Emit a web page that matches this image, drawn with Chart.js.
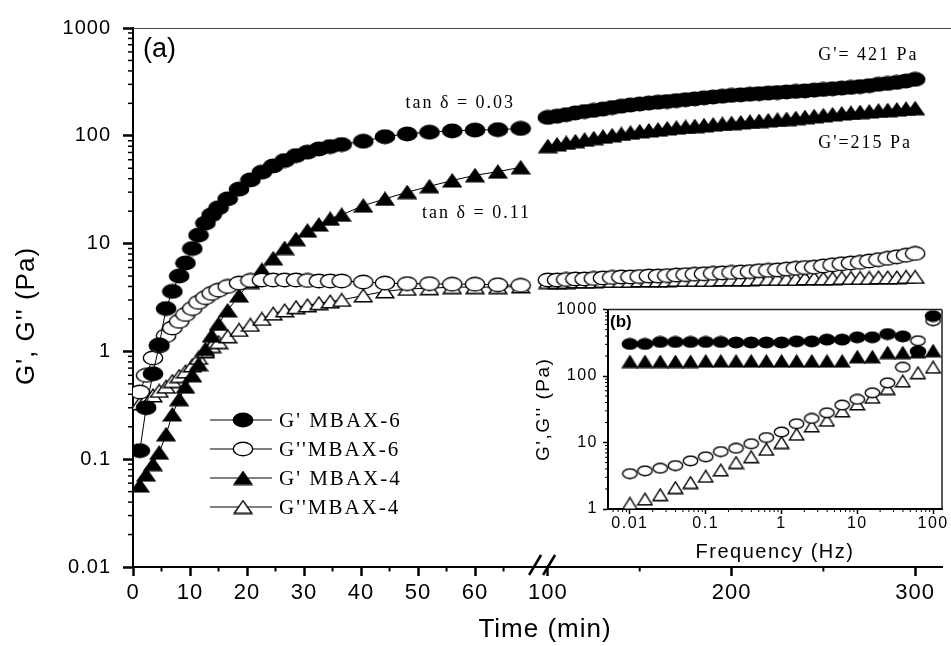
<!DOCTYPE html>
<html>
<head>
<meta charset="utf-8">
<script src="https://cdn.jsdelivr.net/npm/chart.js@4.4.1/dist/chart.umd.min.js"></script>
<style>
    html, body { margin: 0; padding: 0; background: #fff; }
    #wrap { position: relative; width: 951px; height: 646px; }
    #mainChart { position: absolute; left: 0; top: 0; }
    #insetChart { position: absolute; left: 520px; top: 295px; }
</style>
</head>
<body>
<div id="wrap">
    <canvas id="mainChart" width="951" height="646"></canvas>
    <canvas id="insetChart" width="431" height="272"></canvas>
</div>
<script>
// Thời gian đo, đoạn 1 (0–70 min)
const time1 = [1.2, 2.3, 3.5, 4.6, 5.8, 6.9, 8.1, 9.2, 10.4, 11.5, 12.7, 13.8, 15.0, 16.6, 18.6, 20.6,
    22.6, 24.6, 26.6, 28.6, 30.6, 32.6, 34.6, 36.6, 40.4, 44.2, 48.1, 52, 56, 60, 64, 68];
const gp6_1 = [0.12, 0.3, 0.62, 1.15, 2.5, 3.6, 5.0, 6.6, 9.0, 12, 15.5, 18.5, 21.5, 26, 32, 39,
    46, 52.5, 59, 65.5, 70.5, 75.5, 79.5, 83, 89, 98, 104, 108, 111, 113, 114, 117];
const gpp6_1 = [0.42, 0.6, 0.87, 1.12, 1.4, 1.65, 1.9, 2.2, 2.5, 2.85, 3.15, 3.45, 3.7, 4.0, 4.3, 4.55,
    4.6, 4.6, 4.6, 4.6, 4.55, 4.5, 4.5, 4.5, 4.4, 4.3, 4.25, 4.25, 4.2, 4.2, 4.15, 4.1];
const gp4_1 = [0.057, 0.072, 0.09, 0.115, 0.17, 0.26, 0.36, 0.47, 0.6, 0.76, 1.05, 1.4, 1.8, 2.4, 3.3, 4.4,
    5.7, 7.3, 9.1, 11, 13.2, 15, 17, 18.5, 22.5, 26, 30, 34, 38.5, 43, 46.5, 51];
const gpp4_1 = [0.33, 0.36, 0.39, 0.43, 0.47, 0.53, 0.59, 0.65, 0.74, 0.87, 1.0, 1.12, 1.22, 1.38, 1.58, 1.76,
    2.0, 2.24, 2.4, 2.57, 2.67, 2.8, 2.9, 3.0, 3.3, 3.6, 3.8, 3.85, 3.95, 3.95, 3.95, 4.0];

// Thời gian đo, đoạn 2 (100–300 min)
const time2 = [100, 105, 110, 115, 120, 125, 130, 135, 140, 145, 150, 155, 160, 165, 170, 175, 180, 185, 190, 195,
    200, 205, 210, 215, 220, 225, 230, 235, 240, 245, 250, 255, 260, 265, 270, 275, 280, 285, 290, 295, 300];
const gp6_2 = [148, 152, 157, 163, 168, 172, 177, 183, 188, 193, 197, 201, 205, 208, 212, 216, 220, 225, 229, 233,
    237, 240, 243, 246, 249, 252, 255, 258, 261, 265, 269, 273, 277, 281, 286, 292, 300, 306, 313, 322, 334];
const gpp6_2 = [4.6, 4.6, 4.65, 4.7, 4.7, 4.75, 4.8, 4.85, 4.9, 4.9, 4.95, 5.0, 5.0, 5.05, 5.1, 5.15, 5.2, 5.25, 5.3, 5.35,
    5.4, 5.45, 5.5, 5.6, 5.65, 5.7, 5.8, 5.9, 6.0, 6.05, 6.2, 6.35, 6.5, 6.6, 6.7, 6.9, 7.1, 7.3, 7.55, 7.8, 8.1];
const gp4_2 = [80, 83, 86, 89, 92, 95, 98, 101, 104, 107, 110, 112, 114, 117, 119, 121, 123, 125, 127, 129,
    131, 133, 135, 137, 139, 141, 143, 146, 149, 152, 155, 158, 161, 163, 166, 168, 171, 173, 175, 178, 180];
const gpp4_2 = [4.4, 4.4, 4.4, 4.45, 4.45, 4.45, 4.5, 4.5, 4.5, 4.5, 4.55, 4.55, 4.55, 4.55, 4.6, 4.6, 4.6, 4.6, 4.6, 4.65,
    4.65, 4.65, 4.65, 4.7, 4.7, 4.7, 4.7, 4.7, 4.75, 4.75, 4.75, 4.75, 4.8, 4.8, 4.8, 4.8, 4.85, 4.85, 4.85, 4.9, 4.9];

// Quét tần số (hình nhỏ b)
const freq = [0.01, 0.0158, 0.0251, 0.0398, 0.0631, 0.1, 0.158, 0.251, 0.398, 0.631, 1,
    1.58, 2.51, 3.98, 6.31, 10, 15.8, 25.1, 39.8, 63.1, 100];
const gp6_f = [304, 304, 326, 326, 326, 326, 326, 320, 320, 320, 320, 333, 333, 354, 354, 383, 383, 429, 396, 236, 800];
const gpp6_f = [3.4, 3.75, 4.1, 4.5, 5.3, 6.1, 7.3, 8.2, 9.6, 11.9, 14.4, 19.2, 23, 28, 36.6, 44.6, 56, 79, 136, 340, 680];
const gp4_f = [165, 165, 165, 165, 165, 168, 168, 168, 168, 168, 168, 168, 168, 168, 168, 195, 195, 225, 225, 232, 240];
const gpp4_f = [1.21, 1.41, 1.64, 2.1, 2.5, 3.1, 3.85, 5.0, 6.1, 7.9, 10, 13.3, 17.7, 21.6, 29.8, 38, 48, 65, 84, 112, 136];

// Nhãn chuỗi và vạch chia
const seriesLabels = ["G' MBAX-6", "G''MBAX-6", "G' MBAX-4", "G''MBAX-4"];
const xTicks1 = [0, 10, 20, 30, 40, 50, 60];
const xMinor1 = [5, 15, 25, 35, 45, 55, 65];
const xTicks2 = [100, 200, 300];
const xMinor2 = [150, 250];
const yTicks = [0.01, 0.1, 1, 10, 100, 1000];
const yTickLabels = ['0.01', '0.1', '1', '10', '100', '1000'];
const fTicks = [0.01, 0.1, 1, 10, 100];
const fTickLabels = ['0.01', '0.1', '1', '10', '100'];
const gTicks = [1, 10, 100, 1000];
const gTickLabels = ['1', '10', '100', '1000'];

Chart.defaults.font.family = "'Liberation Sans', Arial, sans-serif";
Chart.defaults.color = '#000';

// Vạch chia phụ của trục log: 2..9 trong mỗi thập phân
function logMinor(decades, lo, hi) {
    const out = [];
    decades.forEach(d => {
        for (let m = 2; m <= 9; m++) {
            const v = d * m;
            if (v > lo && v < hi) out.push(v);
        }
    });
    return out;
}
const yMinor = logMinor([0.01, 0.1, 1, 10, 100], 0.01, 1000);
const fMinor = logMinor([0.001, 0.01, 0.1, 1, 10, 100], 0.00514, 131);
const gMinor = logMinor([1, 10, 100], 1, 1000);

// Tạo ký hiệu điểm (ellipse / tam giác) dạng canvas
function makeMarker(shape, filled, w, h) {
    const c = document.createElement('canvas');
    c.width = w + 2;
    c.height = h + 2;
    const g = c.getContext('2d');
    g.lineWidth = 1.4;
    g.strokeStyle = '#000';
    g.fillStyle = filled ? '#000' : '#fff';
    g.beginPath();
    if (shape === 'circle') {
        g.ellipse(c.width / 2, c.height / 2, w / 2 - 0.3, h / 2 - 0.3, 0, 0, Math.PI * 2);
    } else {
        g.moveTo(c.width / 2, 1.2);
        g.lineTo(c.width - 1.2, c.height - 1.2);
        g.lineTo(1.2, c.height - 1.2);
        g.closePath();
    }
    g.fill();
    g.stroke();
    return c;
}

const bigMarkers = [
    makeMarker('circle', true, 20, 14),
    makeMarker('circle', false, 20, 14),
    makeMarker('triangle', true, 18, 13),
    makeMarker('triangle', false, 18, 13)
];
const smallMarkers = [
    makeMarker('circle', true, 16, 11),
    makeMarker('circle', false, 15, 10),
    makeMarker('triangle', true, 15, 12),
    makeMarker('triangle', false, 15, 12)
];

function toPoints(xs, ys) {
    return xs.map((x, i) => ({ x: x, y: ys[i] }));
}

function line(ctx, x1, y1, x2, y2) {
    ctx.beginPath();
    ctx.moveTo(x1, y1);
    ctx.lineTo(x2, y2);
    ctx.stroke();
}

// Dữ liệu cho biểu đồ chính: mỗi chuỗi có 2 đoạn (trục x1 và x2)
const seg1 = [gp6_1, gpp6_1, gp4_1, gpp4_1];
const seg2 = [gp6_2, gpp6_2, gp4_2, gpp4_2];
const mainDatasets = [];
seriesLabels.forEach((label, i) => {
    [[time1, seg1[i], 'x1'], [time2, seg2[i], 'x2']].forEach(([xs, ys, axis]) => {
        mainDatasets.push({
            label: label,
            data: toPoints(xs, ys),
            xAxisID: axis,
            yAxisID: 'y',
            showLine: true,
            borderColor: '#000',
            borderWidth: 1,
            pointStyle: bigMarkers[i],
            pointRadius: 8,
            fill: false
        });
    });
});

// Chú thích văn bản, gắn theo toạ độ của trục
const notes = [
    { text: 'tan δ = 0.03', axis: 'x1', x: 47.8, y: 201 },
    { text: 'tan δ = 0.11', axis: 'x1', x: 50.7, y: 19.2 },
    { text: "G'= 421 Pa", axis: 'x2', x: 247.2, y: 562 },
    { text: "G'=215 Pa", axis: 'x2', x: 247.2, y: 85.7 }
];

const mainDecor = {
    id: 'mainDecor',
    beforeDraw(chart) {
        chart.ctx.letterSpacing = '1px';
    },
    afterDraw(chart) {
        const ctx = chart.ctx;
        const a = chart.chartArea;
        const sc = chart.scales;
        ctx.save();

        // Viền trên
        ctx.strokeStyle = '#444';
        ctx.lineWidth = 1.2;
        line(ctx, a.left, a.top + 0.5, chart.width, a.top + 0.5);

        // Vạch chia phụ
        ctx.strokeStyle = '#000';
        ctx.lineWidth = 2;
        xMinor1.forEach(v => { const p = sc.x1.getPixelForValue(v); line(ctx, p, sc.x1.top, p, sc.x1.top + 4.5); });
        xMinor2.forEach(v => { const p = sc.x2.getPixelForValue(v); line(ctx, p, sc.x2.top, p, sc.x2.top + 4.5); });
        ctx.lineWidth = 1.5;
        yMinor.forEach(v => { const p = sc.y.getPixelForValue(v); line(ctx, a.left - 5, p, a.left, p); });

        // Dấu ngắt trục "//"
        const b = sc.x1.right;
        const yb = sc.x1.top;
        ctx.lineWidth = 2.5;
        line(ctx, b - 3, yb + 8, b + 9, yb - 12);
        line(ctx, b + 11, yb + 8, b + 23, yb - 12);

        // Tiêu đề trục
        ctx.fillStyle = '#000';
        ctx.letterSpacing = '1px';
        ctx.font = "26px 'Liberation Sans', Arial, sans-serif";
        ctx.textAlign = 'center';
        ctx.textBaseline = 'middle';
        ctx.fillText('Time (min)', 545, 630);
        ctx.save();
        ctx.translate(27, 316);
        ctx.rotate(-Math.PI / 2);
        ctx.fillText("G', G'' (Pa)", 0, 0);
        ctx.restore();

        // Nhãn (a)
        ctx.letterSpacing = '0px';
        ctx.font = "27px 'Liberation Sans', Arial, sans-serif";
        ctx.textAlign = 'left';
        ctx.fillText('(a)', a.left + 10, a.top + 22);

        // Chú thích tan δ và G'
        ctx.letterSpacing = '2px';
        ctx.font = "18px 'Liberation Serif', 'Times New Roman', serif";
        notes.forEach(n => {
            ctx.fillText(n.text, sc[n.axis].getPixelForValue(n.x), sc.y.getPixelForValue(n.y));
        });

        // Chú giải tự vẽ trong vùng biểu đồ
        const lx = a.left + 77;
        const ly = a.top + 392;
        ctx.font = "21px 'Liberation Serif', 'Times New Roman', serif";
        ctx.lineWidth = 1;
        seriesLabels.forEach((label, i) => {
            const y = ly + i * 29;
            const m = bigMarkers[i];
            line(ctx, lx, y, lx + 62, y);
            ctx.drawImage(m, lx + 33 - m.width / 2, y - m.height / 2);
            ctx.fillText(label, lx + 69, y + 1);
        });
        ctx.restore();
    }
};

new Chart(document.getElementById('mainChart'), {
    type: 'scatter',
    data: { datasets: mainDatasets },
    options: {
        responsive: false,
        animation: false,
        devicePixelRatio: 1,
        layout: { padding: { top: 28, right: 1, left: 0, bottom: 0 } },
        plugins: {
            legend: { display: false },
            tooltip: { enabled: false }
        },
        scales: {
            x1: {
                type: 'linear',
                position: 'bottom',
                stack: 'time',
                stackWeight: 403,
                bounds: 'data',
                min: 0,
                max: 70,
                afterBuildTicks: s => { s.ticks = xTicks1.map(v => ({ value: v })); },
                afterFit: s => { s.height = 79; },
                ticks: {
                    callback: (v, i) => String(xTicks1[i]),
                    font: { size: 22 },
                    color: '#000',
                    padding: 4,
                    maxRotation: 0,
                    autoSkip: false
                },
                grid: { drawOnChartArea: false, tickLength: 9, tickWidth: 2.5, tickColor: '#000' },
                border: { color: '#000', width: 2 }
            },
            x2: {
                type: 'linear',
                position: 'bottom',
                stack: 'time',
                stackWeight: 414,
                bounds: 'data',
                min: 91.4,
                max: 314.6,
                afterBuildTicks: s => { s.ticks = xTicks2.map(v => ({ value: v })); },
                afterFit: s => { s.height = 79; },
                ticks: {
                    callback: (v, i) => String(xTicks2[i]),
                    font: { size: 22 },
                    color: '#000',
                    padding: 4,
                    maxRotation: 0,
                    autoSkip: false
                },
                grid: { drawOnChartArea: false, tickLength: 9, tickWidth: 2.5, tickColor: '#000' },
                border: { color: '#000', width: 2 }
            },
            y: {
                type: 'logarithmic',
                position: 'left',
                bounds: 'data',
                min: 0.01,
                max: 1000,
                afterBuildTicks: s => { s.ticks = yTicks.map(v => ({ value: v })); },
                afterFit: s => { s.width = 133; },
                ticks: {
                    callback: (v, i) => yTickLabels[i],
                    font: { size: 20 },
                    color: '#000',
                    padding: 12,
                    autoSkip: false
                },
                grid: { drawOnChartArea: false, tickLength: 10, tickWidth: 2.5, tickColor: '#000' },
                border: { color: '#000', width: 2 }
            }
        }
    },
    plugins: [mainDecor]
});

// Hình nhỏ (b): G', G'' theo tần số
const insetSeries = [gp6_f, gpp6_f, gp4_f, gpp4_f];
const insetDatasets = seriesLabels.map((label, i) => ({
    label: label,
    data: toPoints(freq, insetSeries[i]),
    showLine: false,
    pointStyle: smallMarkers[i],
    pointRadius: 7
}));

const insetDecor = {
    id: 'insetDecor',
    beforeDraw(chart) {
        chart.ctx.letterSpacing = '1.5px';
    },
    afterDraw(chart) {
        const ctx = chart.ctx;
        const a = chart.chartArea;
        const sc = chart.scales;
        ctx.save();
        ctx.strokeStyle = '#222';
        ctx.lineWidth = 1.5;
        line(ctx, a.left, a.top, a.right, a.top);
        line(ctx, a.right, a.top, a.right, a.bottom);

        ctx.strokeStyle = '#000';
        ctx.lineWidth = 1;
        fMinor.forEach(v => { const p = sc.x.getPixelForValue(v); line(ctx, p, a.bottom, p, a.bottom + 3); });
        gMinor.forEach(v => { const p = sc.y.getPixelForValue(v); line(ctx, a.left - 3, p, a.left, p); });

        ctx.fillStyle = '#000';
        ctx.letterSpacing = '0px';
        ctx.font = "bold 17px 'Liberation Sans', Arial, sans-serif";
        ctx.textAlign = 'left';
        ctx.textBaseline = 'middle';
        ctx.fillText('(b)', a.left + 2, a.top + 13);
        ctx.restore();
    }
};

new Chart(document.getElementById('insetChart'), {
    type: 'scatter',
    data: { datasets: insetDatasets },
    options: {
        responsive: false,
        animation: false,
        devicePixelRatio: 1,
        layout: { padding: { top: 13, right: 9, left: 0, bottom: 0 } },
        plugins: {
            legend: { display: false },
            tooltip: { enabled: false }
        },
        scales: {
            x: {
                type: 'logarithmic',
                position: 'bottom',
                bounds: 'data',
                min: 0.00514,
                max: 131,
                afterBuildTicks: s => { s.ticks = fTicks.map(v => ({ value: v })); },
                afterFit: s => { s.height = 58; },
                ticks: {
                    callback: (v, i) => fTickLabels[i],
                    font: { size: 16 },
                    color: '#000',
                    padding: 0,
                    maxRotation: 0,
                    autoSkip: false
                },
                grid: { drawOnChartArea: false, tickLength: 5, tickWidth: 1.5, tickColor: '#000' },
                border: { color: '#000', width: 2 },
                title: {
                    display: true,
                    text: 'Frequency (Hz)',
                    font: { size: 20 },
                    color: '#000',
                    padding: { top: 0, bottom: 3 }
                }
            },
            y: {
                type: 'logarithmic',
                position: 'left',
                bounds: 'data',
                min: 1,
                max: 1000,
                afterBuildTicks: s => { s.ticks = gTicks.map(v => ({ value: v })); },
                afterFit: s => { s.width = 88; },
                ticks: {
                    callback: (v, i) => gTickLabels[i],
                    font: { size: 16 },
                    color: '#000',
                    padding: 5,
                    autoSkip: false
                },
                grid: { drawOnChartArea: false, tickLength: 5, tickWidth: 1.5, tickColor: '#000' },
                border: { color: '#000', width: 2 },
                title: {
                    display: true,
                    text: "G',G'' (Pa)",
                    font: { size: 19 },
                    color: '#000',
                    padding: { top: 12, bottom: 0 }
                }
            }
        }
    },
    plugins: [insetDecor]
});
</script>
</body>
</html>
